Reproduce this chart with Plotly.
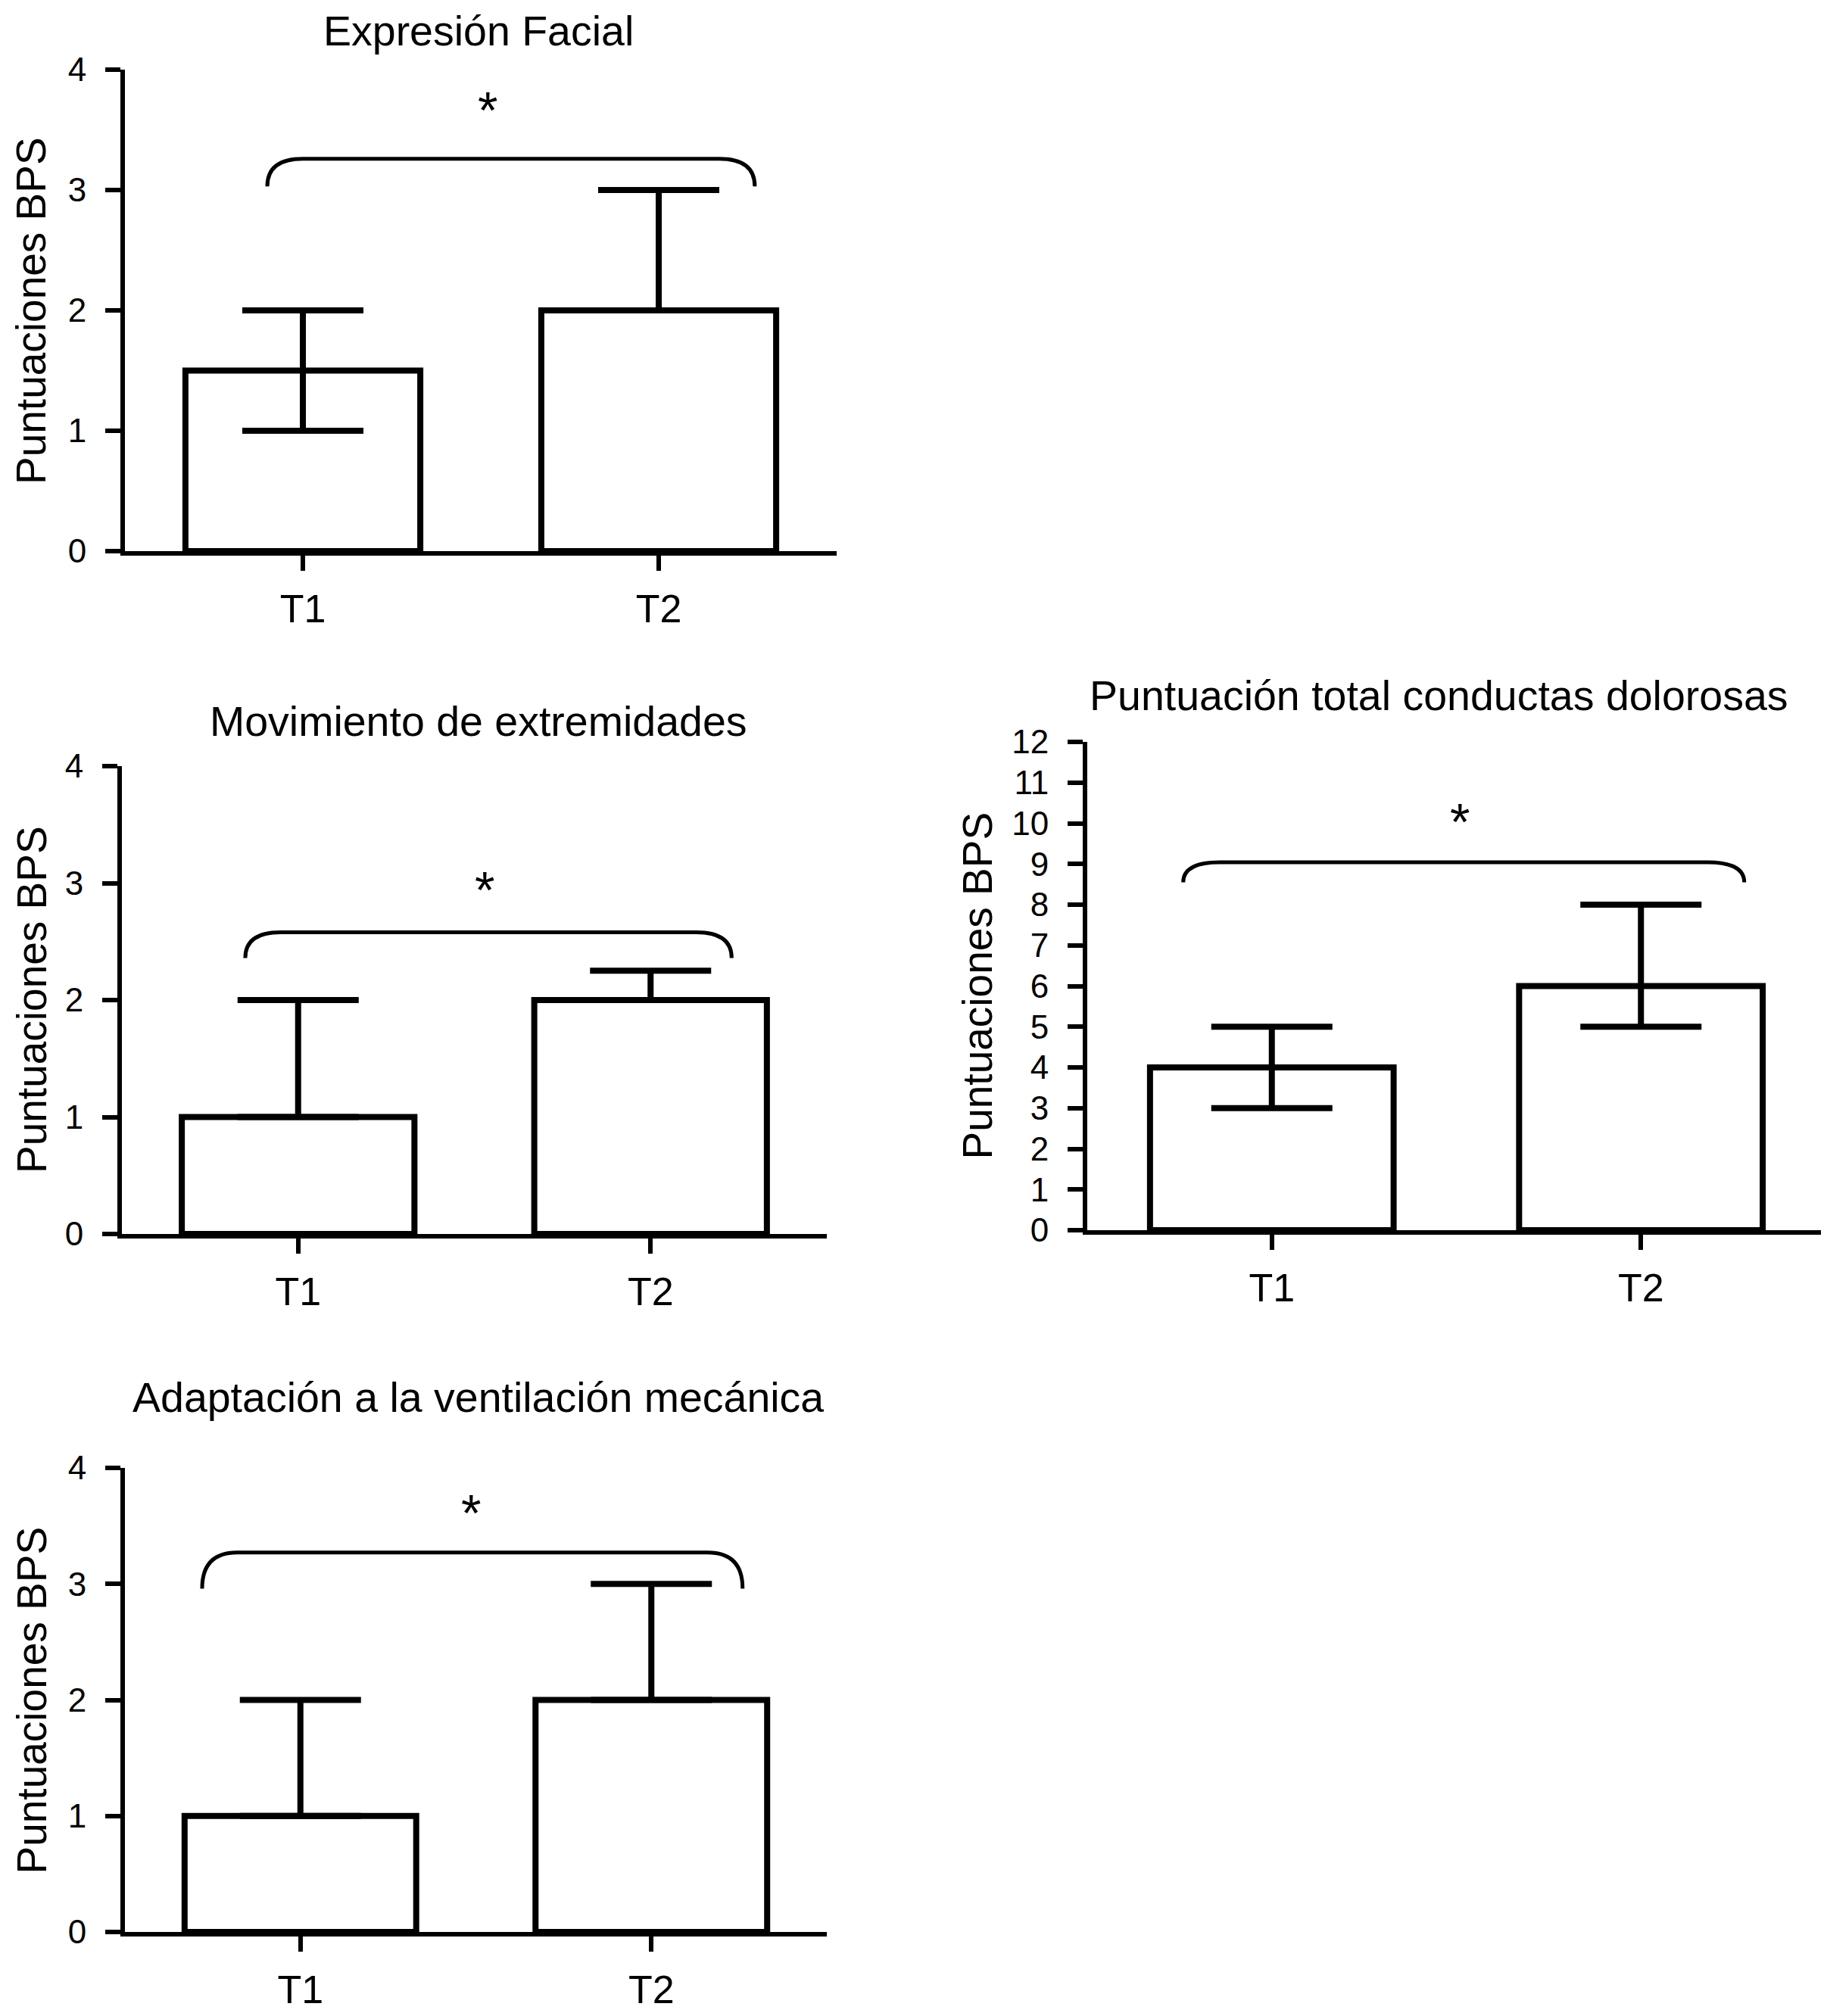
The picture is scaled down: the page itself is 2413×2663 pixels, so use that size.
import plotly.graph_objects as go

# data: medians with interquartile range (BPS scores)
categories = ["T1", "T2"]

titles = [
    "Expresión Facial",
    "Movimiento de extremidades",
    "Puntuación total conductas dolorosas",
    "Adaptación a la ventilación mecánica",
]
y_label = "Puntuaciones BPS"

facial_median = [1.5, 2]
facial_q1 = [1, 2]
facial_q3 = [2, 3]

movement_median = [1, 2]
movement_q1 = [1, 2]
movement_q3 = [2, 2.25]

total_median = [4, 6]
total_q1 = [3, 5]
total_q3 = [5, 8]

ventilation_median = [1, 2]
ventilation_q1 = [1, 2]
ventilation_q3 = [2, 3]

y_max = [4, 4, 12, 4]
significance = ["*", "*", "*", "*"]

W, H = 2413, 2663
PAGE = 8  # default body margin of the html page
FONT = "Liberation Sans, Arial, Helvetica, sans-serif"

# panel layout in page pixels: (left, right, top, bottom)
boxes = [
    (165, 1105, 92, 728),
    (161, 1092, 1012, 1630),
    (1436, 2411, 980, 1625),
    (165, 1092, 1939, 2552),
]
title_gap = [51, 59, 61, 93]
title_dx = [-3, 5, -23, 3]
label_shift = [-124, -119, -146, -124]
# bracket: x from, x to, end level, top level ; asterisk x, y
brackets = [
    (-0.10, 1.27, 3.03, 3.26, 0.52, 3.77),
    (-0.15, 1.23, 2.36, 2.58, 0.53, 3.05),
    (-0.24, 1.28, 8.55, 9.04, 0.51, 10.35),
    (-0.28, 1.26, 2.96, 3.27, 0.485, 3.72),
]

series = [
    (facial_median, facial_q1, facial_q3),
    (movement_median, movement_q1, movement_q3),
    (total_median, total_q1, total_q3),
    (ventilation_median, ventilation_q1, ventilation_q3),
]

fig = go.Figure()
positions = list(range(len(categories)))

for i, (med, q1, q3) in enumerate(series):
    n = "" if i == 0 else str(i + 1)
    fig.add_trace(go.Bar(
        x=positions, y=med, width=0.66,
        marker=dict(color="white", line=dict(color="black", width=8)),
        error_y=dict(
            type="data", symmetric=False,
            array=[b - a for a, b in zip(med, q3)],
            arrayminus=[a - b for a, b in zip(med, q1)],
            color="black", thickness=8, width=80,
        ),
        xaxis="x" + n, yaxis="y" + n, showlegend=False, hoverinfo="skip",
    ))

    l, r, t, b = [v - PAGE for v in boxes[i]]
    axis_common = dict(
        showgrid=False, zeroline=False, showline=True, linecolor="black",
        linewidth=6, ticks="outside", ticklen=20, tickwidth=6, tickcolor="black",
        tickfont=dict(family=FONT, size=44, color="black"), fixedrange=True,
        automargin=False,
    )
    fig.layout["xaxis" + n] = dict(
        axis_common, domain=[l / W, r / W], range=[-0.5, 1.5],
        tickvals=positions, ticktext=categories, anchor="y" + n,
        tickfont=dict(family=FONT, size=52, color="black"), ticklabelstandoff=6,
    )
    fig.layout["yaxis" + n] = dict(
        axis_common, domain=[1 - b / H, 1 - t / H], range=[0, y_max[i]],
        dtick=1, anchor="x" + n, ticklabelstandoff=16,
    )

    fig.add_annotation(
        text=titles[i], xref="x" + n + " domain", yref="y" + n + " domain",
        x=0.5, y=1, xshift=title_dx[i], yshift=title_gap[i],
        xanchor="center", yanchor="middle",
        showarrow=False, font=dict(family=FONT, size=55.5, color="black"),
    )
    fig.add_annotation(
        text=y_label, xref="x" + n + " domain", yref="y" + n + " domain",
        x=0, y=0.5, xshift=label_shift[i], xanchor="center", yanchor="middle",
        textangle=-90, showarrow=False,
        font=dict(family=FONT, size=55, color="black"),
    )

    x0, x1, ye, yt, sx, sy = brackets[i]
    dx = 0.1
    path = (f"M {x0},{ye} Q {x0},{yt} {x0 + dx},{yt} L {x1 - dx},{yt} "
            f"Q {x1},{yt} {x1},{ye}")
    fig.add_shape(type="path", path=path, xref="x" + n, yref="y" + n,
                  line=dict(color="black", width=5))
    fig.add_annotation(
        text=significance[i], xref="x" + n, yref="y" + n, x=sx, y=sy,
        xanchor="center", yanchor="middle", yshift=-16, showarrow=False,
        font=dict(family=FONT, size=68, color="black"),
    )

fig.update_layout(
    width=W, height=H, margin=dict(l=0, r=0, t=0, b=0),
    plot_bgcolor="white", paper_bgcolor="white",
    font=dict(family=FONT, color="black"),
)

fig.write_html("out.html")
